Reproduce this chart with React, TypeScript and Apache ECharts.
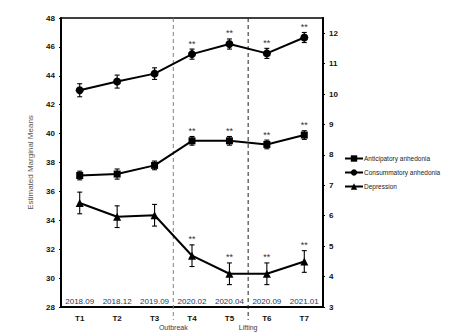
import React, { useEffect, useRef } from "react";
import * as echarts from "echarts";

const categories = ["T1", "T2", "T3", "T4", "T5", "T6", "T7"];
const dates = ["2018.09", "2018.12", "2019.09", "2020.02", "2020.04", "2020.09", "2021.01"];
const anticipatory = [37.1, 37.2, 37.8, 39.5, 39.5, 39.25, 39.9];
const anticipatoryErr = [0.3, 0.35, 0.3, 0.3, 0.3, 0.3, 0.3];
const consummatory = [43.0, 43.6, 44.15, 45.5, 46.2, 45.55, 46.65];
const consummatoryErr = [0.45, 0.45, 0.4, 0.35, 0.35, 0.35, 0.35];
const depression = [35.2, 34.25, 34.35, 31.55, 30.3, 30.3, 31.15];
const depressionErr = [0.75, 0.75, 0.75, 0.75, 0.75, 0.75, 0.75];
const significant = [0, 0, 0, 1, 1, 1, 1];
const phaseBoundaries = [3, 5];
const phaseNames = ["Outbreak", "Lifting"];
const leftTicks = { min: 28, max: 48, interval: 2 };
const rightTicks = { min: 3, max: 12.5, interval: 1 };

const FONT = "'Liberation Sans Narrow', 'Liberation Sans', sans-serif";

function errData(vals: number[], errs: number[]) {
  return vals.map((v, i) => [i, v - errs[i], v + errs[i], significant[i]]);
}

function errSeries(name: string, vals: number[], errs: number[]) {
  return {
    type: "custom",
    name: name + " err",
    xAxisIndex: 0,
    yAxisIndex: 0,
    clip: false,
    z: 3,
    data: errData(vals, errs),
    renderItem: (params: any, api: any) => {
      const i = api.value(0);
      const lo = api.coord([i, api.value(1)]);
      const hi = api.coord([i, api.value(2)]);
      const cap = 2.5;
      const st = { stroke: "#000", lineWidth: 1.1 };
      const children: any[] = [
        { type: "line", shape: { x1: lo[0], y1: lo[1], x2: hi[0], y2: hi[1] }, style: st },
        { type: "line", shape: { x1: lo[0] - cap, y1: lo[1], x2: lo[0] + cap, y2: lo[1] }, style: st },
        { type: "line", shape: { x1: hi[0] - cap, y1: hi[1], x2: hi[0] + cap, y2: hi[1] }, style: st },
      ];
      if (api.value(3)) {
        children.push({
          type: "text",
          style: {
            text: "**",
            x: hi[0],
            y: hi[1] - 1,
            textAlign: "center",
            textVerticalAlign: "bottom",
            fontSize: 9,
            fontFamily: FONT,
            fill: "#333",
          },
        });
      }
      return { type: "group", children };
    },
  };
}

export default function App() {
  const ref = useRef<HTMLDivElement>(null);
  useEffect(() => {
    if (!ref.current) return;
    const chart = echarts.init(ref.current, null, { renderer: "svg" });
    const lineSeries = (name: string, data: number[], symbol: string, size: number) => ({
      type: "line",
      name,
      data,
      xAxisIndex: 0,
      yAxisIndex: 0,
      symbol,
      symbolSize: size,
      z: 4,
      itemStyle: { color: "#000" },
      lineStyle: { color: "#000", width: 2 },
    });
    chart.setOption({
      animation: false,
      textStyle: { fontFamily: FONT },
      grid: {
        left: 61,
        top: 18,
        right: 132,
        bottom: 27,
        show: true,
        borderColor: "#000",
        borderWidth: 1.5,
        backgroundColor: "transparent",
      },
      legend: {
        orient: "vertical",
        left: 339,
        top: 150,
        width: 116,
        itemGap: 7,
        itemWidth: 18,
        itemHeight: 8,
        data: ["Anticipatory anhedonia", "Consummatory anhedonia", "Depression"],
        textStyle: { fontSize: 6.5, color: "#222", fontFamily: FONT, padding: [0, 0, 0, -4] },
      },
      xAxis: [
        {
          type: "category",
          data: categories,
          axisLine: { lineStyle: { color: "#000", width: 2 } },
          axisTick: { inside: true, length: 3, lineStyle: { color: "#000" } },
          axisLabel: { fontSize: 8, fontWeight: "bold", color: "#111", margin: 7 },
        },
      ],
      yAxis: [
        {
          type: "value",
          min: leftTicks.min,
          max: leftTicks.max,
          interval: leftTicks.interval,
          name: "Estimated Marginal Means",
          nameLocation: "middle",
          nameGap: 27,
          nameTextStyle: { fontSize: 8, color: "#555", fontFamily: FONT },
          axisLine: { show: true, lineStyle: { color: "#000", width: 2 } },
          axisTick: { show: true, length: 2, lineStyle: { color: "#000" } },
          axisLabel: { fontSize: 8, fontWeight: "bold", color: "#111", margin: 6 },
          splitLine: { show: false },
        },
        {
          type: "value",
          position: "right",
          min: rightTicks.min,
          max: rightTicks.max,
          interval: rightTicks.interval,
          axisLine: { show: true, lineStyle: { color: "#000", width: 2 } },
          axisTick: { show: true, length: 2, lineStyle: { color: "#000" } },
          axisLabel: { fontSize: 8, fontWeight: "bold", color: "#111", margin: 6, showMaxLabel: false },
          splitLine: { show: false },
        },
      ],
      series: [
        lineSeries("Anticipatory anhedonia", anticipatory, "rect", 7),
        lineSeries("Consummatory anhedonia", consummatory, "circle", 8),
        lineSeries("Depression", depression, "triangle", 8),
        errSeries("Anticipatory anhedonia", anticipatory, anticipatoryErr),
        errSeries("Consummatory anhedonia", consummatory, consummatoryErr),
        errSeries("Depression", depression, depressionErr),
        {
          type: "custom",
          name: "dates",
          xAxisIndex: 0,
          yAxisIndex: 0,
          clip: false,
          data: dates.map((d, i) => [i, leftTicks.min]),
          renderItem: (params: any, api: any) => {
            const p = api.coord([api.value(0), api.value(1)]);
            return {
              type: "text",
              style: {
                text: dates[params.dataIndex],
                x: p[0],
                y: p[1] - 2,
                textAlign: "center",
                textVerticalAlign: "bottom",
                fontSize: 8,
                fontFamily: FONT,
                fill: "#1f3864",
              },
            };
          },
        },
        {
          type: "custom",
          name: "phases",
          xAxisIndex: 0,
          yAxisIndex: 0,
          clip: false,
          data: phaseBoundaries.map((b) => [b, leftTicks.min]),
          renderItem: (params: any, api: any) => {
            const b = api.value(0);
            const bw = api.size([1, 0])[0];
            const bottom = api.coord([b, leftTicks.min]);
            const top = api.coord([b, leftTicks.max]);
            const x = bottom[0] - bw / 2;
            const color = params.dataIndex === 0 ? "#808080" : "#222";
            return {
              type: "group",
              children: [
                {
                  type: "line",
                  shape: { x1: x, y1: top[1], x2: x, y2: bottom[1] + 13 },
                  style: { stroke: color, lineWidth: 1, lineDash: [4, 3] },
                },
                {
                  type: "text",
                  style: {
                    text: phaseNames[params.dataIndex],
                    x: x,
                    y: bottom[1] + 20,
                    textAlign: "center",
                    textVerticalAlign: "middle",
                    fontSize: 7,
                    fontFamily: FONT,
                    fill: "#2a3a55",
                  },
                },
              ],
            };
          },
        },
      ],
    });
    return () => chart.dispose();
  }, []);
  return (
    <div
      ref={ref}
      style={{ position: "fixed", left: 0, top: 0, width: 455, height: 334, background: "#fff" }}
    />
  );
}
